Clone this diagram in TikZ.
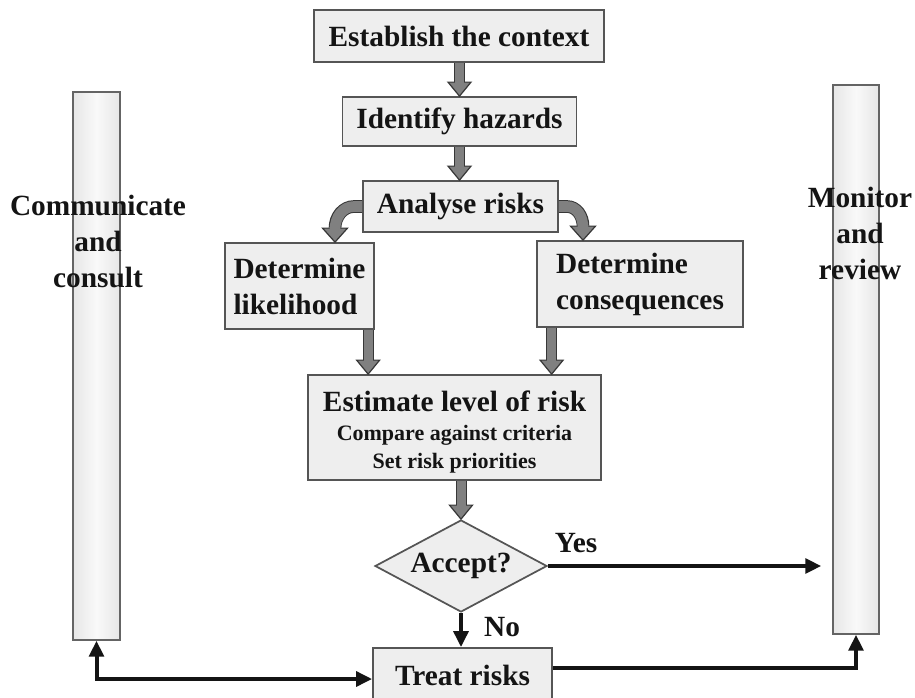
\documentclass[tikz,border=0pt]{standalone}
\usepackage{fontspec}
\setmainfont{Liberation Serif}
\usetikzlibrary{shapes.geometric,arrows.meta,calc}

\definecolor{boxfill}{RGB}{238,238,238}
\definecolor{boxedge}{RGB}{85,85,85}
\definecolor{arrowfill}{RGB}{128,128,128}
\definecolor{arrowedge}{RGB}{55,55,55}
\definecolor{barfill}{RGB}{230,230,230}
\definecolor{barlight}{RGB}{249,249,249}
\definecolor{baredge}{RGB}{100,100,100}
\definecolor{ink}{RGB}{20,20,20}

\newcommand\mainsz{\fontsize{22}{27}\selectfont}
\newcommand\smallsz{\fontsize{16.5}{20}\selectfont}

% gray block arrow: #1 outer shaft width, #2 inner shaft width,
% #3 shaft path (ending at the head base), #4 tip, #5 head half-width
\newcommand\blockarrow[5]{%
  \draw[draw=arrowedge, line width=#1] #3;
  \filldraw[fill=arrowfill, draw=arrowedge, line width=0.9pt, line join=miter]
    (#4) -- ++(-#5,-14) -- ++(2*#5,0) -- cycle;
  \draw[draw=arrowfill, line width=#2, shorten >=-1.2pt] #3;
}

\tikzset{
  stepbox/.style={draw=boxedge, fill=boxfill, line width=1.3pt, inner sep=0pt,
    font=\bfseries\mainsz, text=ink},
  decision/.style={diamond, aspect=1.87, draw=boxedge, fill=boxfill, line width=1.3pt,
    inner sep=0pt, font=\bfseries\mainsz, text=ink},
  sidebar/.style={draw=baredge, line width=1.1pt, inner sep=0pt,
    left color=barfill, right color=barfill, middle color=barlight},
  lbl/.style={font=\bfseries\mainsz, text=ink, inner sep=0pt},
  flow/.style={draw=ink, line width=3pt, -{Triangle[length=12pt,width=11pt]}},
}

\begin{document}
\begin{tikzpicture}[x=0.75pt,y=-0.75pt]
\clip (0,0) rectangle (915,697);
\fill[white] (0,0) rectangle (915,697);

% side bars
\node[sidebar, minimum width=35.25pt, minimum height=411pt] (ml) at (96.5,366) {};
\node[sidebar, minimum width=34.5pt, minimum height=411.75pt] (mr) at (856,359.5) {};
\node[lbl, align=center] (cc) at (98,241) {Communicate\\and\\consult};
\node[lbl, align=center] (mrv) at (860,233) {Monitor\\and\\review};

% process steps
\node[stepbox, minimum width=217.5pt, minimum height=39pt] (ctx) at (459,36) {Establish the context};
\node[stepbox, minimum width=175.5pt, minimum height=36.75pt] (haz) at (459.5,121.5) {Identify hazards};
\node[stepbox, minimum width=146.25pt, minimum height=38.25pt] (ar) at (460.5,206.5) {Analyse risks};
\node[stepbox, align=left, minimum width=111.75pt, minimum height=64.5pt] (lh) at (299.5,286) {Determine\\likelihood};
\node[stepbox, align=left, minimum width=154.5pt, minimum height=64.5pt] (cons) at (640,284) {Determine\\consequences};
\node[stepbox, align=center, minimum width=219.75pt, minimum height=78.75pt] (est) at (454.5,427.5)
  {\rule{0pt}{22pt}Estimate level of risk\\[-5pt]\smallsz Compare against criteria\\[-6pt]\smallsz Set risk priorities};
\node[decision, minimum width=129pt, minimum height=69pt] (dec) at (461,566) {Accept?};
\node[stepbox, minimum width=134.25pt, minimum height=40.5pt] (treat) at (462.5,675) {Treat risks};

% arrow tips on the estimate box
\coordinate (tl) at ($(est.north west)+(61,0)$);
\coordinate (tc) at ($(est.north west)+(244.5,0)$);
\coordinate (tll) at ($(lh.north)+(35.5,0)$);
\coordinate (tcc) at ($(cons.north)+(-57,0)$);

% gray block arrows
\blockarrow{8.25pt}{6.75pt}{(ctx.south -| haz.north) -- ($(haz.north)+(0,-14)$)}{haz.north}{11.5}
\blockarrow{8.25pt}{6.75pt}{(haz.south) -- ($(haz.south |- ar.north)+(0,-14)$)}{haz.south |- ar.north}{11.5}
\blockarrow{9.5pt}{8pt}{(ar.west) -- ++(-8,0) to[out=180,in=90] ($(tll)+(0,-14)$)}{tll}{12.5}
\blockarrow{9.5pt}{8pt}{(ar.east) -- ++(8,0) to[out=0,in=90] ($(tcc)+(0,-14)$)}{tcc}{12.5}
\blockarrow{8.25pt}{6.75pt}{(tl |- lh.south) -- ($(tl)+(0,-14)$)}{tl}{11.5}
\blockarrow{8.25pt}{6.75pt}{(tc |- cons.south) -- ($(tc)+(0,-14)$)}{tc}{11.5}
\blockarrow{8.25pt}{6.75pt}{(est.south -| dec.north) -- ($(dec.north)+(0,-14)$)}{dec.north}{11.5}

% decision outcomes and feedback lines
\draw[flow] (dec.east) -- ($(dec.east -| mr.west)+(-11,0)$);
\node[lbl] (yes) at (576,543) {Yes};
\draw[flow] (dec.south) -- (dec.south |- treat.north);
\node[lbl] (no) at (502,627) {No};
\draw[flow, {Triangle[length=12pt,width=11pt]}-{Triangle[length=12pt,width=11pt]}] (ml.south) |- ($(treat.west)+(0,4)$);
\draw[flow] ($(treat.east)+(0,-7)$) -| (mr.south);
\end{tikzpicture}
\end{document}
